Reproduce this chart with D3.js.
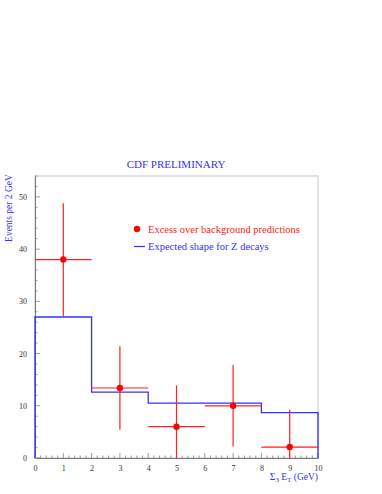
<!DOCTYPE html>
<html>
<head>
<meta charset="utf-8">
<script src="https://cdn.jsdelivr.net/npm/d3@7"></script>
<style>
  body { margin: 0; background: #fff; }
  svg { display: block; font-family: "Liberation Serif", "DejaVu Serif", serif; }
</style>
</head>
<body>
<div class="chart"></div>
<script>
// measured points (bin centres, GeV) with symmetric errors
var pointX = [1, 3, 5, 7, 9];
var pointY = [38, 13.4, 6, 10, 2.1];
var pointErr = [10.8, 8, 7.9, 7.8, 7.2];
var binHalf = 1;

// expected Z shape, bin edges and contents
var binEdges = [0, 2, 4, 6, 8, 10];
var shapeVals = [27, 12.6, 10.5, 10.5, 8.7];

var xTicks = [0, 1, 2, 3, 4, 5, 6, 7, 8, 9, 10];
var yTicks = [0, 10, 20, 30, 40, 50];

(function(){
    var W = 382, H = 494;
    var margin = {top: 176, right: 64, bottom: 36, left: 35};
    var width = W - margin.left - margin.right;
    var height = H - margin.top - margin.bottom;

    var x = d3.scaleLinear().domain([0, 10]).range([0, width]);
    var y = d3.scaleLinear().domain([0, 54]).range([height, 0]);

    var svg = d3.select(".chart").append("svg")
        .attr("width", W)
        .attr("height", H);

    var g = svg.append("g")
        .attr("transform", "translate(" + margin.left + "," + margin.top + ")");

    // frame
    g.append("rect")
        .attr("width", width)
        .attr("height", height)
        .attr("fill", "none")
        .attr("stroke", "#c8c8c8")
        .attr("stroke-width", 1);

    // minor ticks (inside)
    var xMinor = d3.range(0, 10.001, 0.2);
    g.append("g").selectAll("line").data(xMinor).enter().append("line")
        .attr("x1", function(d){ return x(d); })
        .attr("x2", function(d){ return x(d); })
        .attr("y1", height)
        .attr("y2", function(d){ return Math.abs(d - Math.round(d)) < 1e-6 ? height - 5 : height - 2.5; })
        .attr("stroke", "#999");
    var yMinor = d3.range(0, 54.001, 2);
    g.append("g").selectAll("line").data(yMinor).enter().append("line")
        .attr("y1", function(d){ return y(d); })
        .attr("y2", function(d){ return y(d); })
        .attr("x1", 0)
        .attr("x2", function(d){ return d % 10 === 0 ? 5 : 2.5; })
        .attr("stroke", "#999");

    // axes lines + labels
    var xAxis = g.append("g")
        .attr("transform", "translate(0," + height + ")")
        .call(d3.axisBottom(x).tickValues(xTicks).tickSize(0).tickPadding(7).tickFormat(d3.format("d")));
    var yAxis = g.append("g")
        .call(d3.axisLeft(y).tickValues(yTicks).tickSize(0).tickPadding(8).tickFormat(d3.format("d")));
    [xAxis, yAxis].forEach(function(a){
        a.select(".domain").attr("stroke", "#777");
        a.selectAll("text").attr("font-family", "Liberation Serif, serif").attr("font-size", 8).attr("fill", "#333");
    });

    // expected shape histogram
    var shapePts = [[binEdges[0], 0]];
    shapeVals.forEach(function(v, i){
        shapePts.push([binEdges[i], v]);
        shapePts.push([binEdges[i + 1], v]);
    });
    shapePts.push([binEdges[binEdges.length - 1], 0]);
    g.append("path")
        .attr("d", d3.line().x(function(d){ return x(d[0]); }).y(function(d){ return y(d[1]); })(shapePts))
        .attr("fill", "none")
        .attr("stroke", "#3232ff")
        .attr("stroke-width", 1.3);

    // data points with error bars
    var pts = pointX.map(function(d, i){ return {x: d, y: pointY[i], e: pointErr[i]}; });
    var clipY = function(v){ return y(Math.max(0, v)); };
    var pg = g.append("g");
    pg.selectAll(".v").data(pts).enter().append("line")
        .attr("x1", function(d){ return x(d.x); })
        .attr("x2", function(d){ return x(d.x); })
        .attr("y1", function(d){ return clipY(d.y - d.e); })
        .attr("y2", function(d){ return clipY(d.y + d.e); })
        .attr("stroke", "#ff2020")
        .attr("stroke-width", 1.2);
    pg.selectAll(".h").data(pts).enter().append("line")
        .attr("x1", function(d){ return x(d.x - binHalf); })
        .attr("x2", function(d){ return x(d.x + binHalf); })
        .attr("y1", function(d){ return y(d.y); })
        .attr("y2", function(d){ return y(d.y); })
        .attr("stroke", "#ff2020")
        .attr("stroke-width", 1.2);
    pg.selectAll("circle").data(pts).enter().append("circle")
        .attr("cx", function(d){ return x(d.x); })
        .attr("cy", function(d){ return y(d.y); })
        .attr("r", 3.2)
        .attr("fill", "#ff0000");

    // legend
    svg.append("circle").attr("cx", 137).attr("cy", 229).attr("r", 3.2).attr("fill", "#ff0000");
    svg.append("text").attr("x", 148).attr("y", 232.5)
        .attr("font-size", 10.5).attr("fill", "#ff2020")
        .text("Excess over background predictions");
    svg.append("line").attr("x1", 134).attr("x2", 145).attr("y1", 246.5).attr("y2", 246.5)
        .attr("stroke", "#3232ff").attr("stroke-width", 1.2);
    svg.append("text").attr("x", 148).attr("y", 250)
        .attr("font-size", 10.5).attr("fill", "#3232ff")
        .text("Expected shape for Z decays");

    // title
    svg.append("text").attr("x", 176).attr("y", 168)
        .attr("text-anchor", "middle")
        .attr("font-size", 11).attr("fill", "#3232ff")
        .text("CDF PRELIMINARY");

    // y label
    svg.append("text")
        .attr("transform", "translate(12,208) rotate(-90)")
        .attr("text-anchor", "middle")
        .attr("font-size", 9.5).attr("fill", "#3232ff")
        .text("Events per 2 GeV");

    // x label with subscripts
    var xl = svg.append("text").attr("x", 318).attr("y", 480)
        .attr("text-anchor", "end")
        .attr("font-size", 9.5).attr("fill", "#3232ff");
    xl.append("tspan").text("\u03A3");
    xl.append("tspan").attr("font-size", 7).attr("dy", 2).text("3");
    xl.append("tspan").attr("dy", -2).text(" E");
    xl.append("tspan").attr("font-size", 7).attr("dy", 2).text("T");
    xl.append("tspan").attr("dy", -2).text(" (GeV)");
}());
</script>
</body>
</html>
